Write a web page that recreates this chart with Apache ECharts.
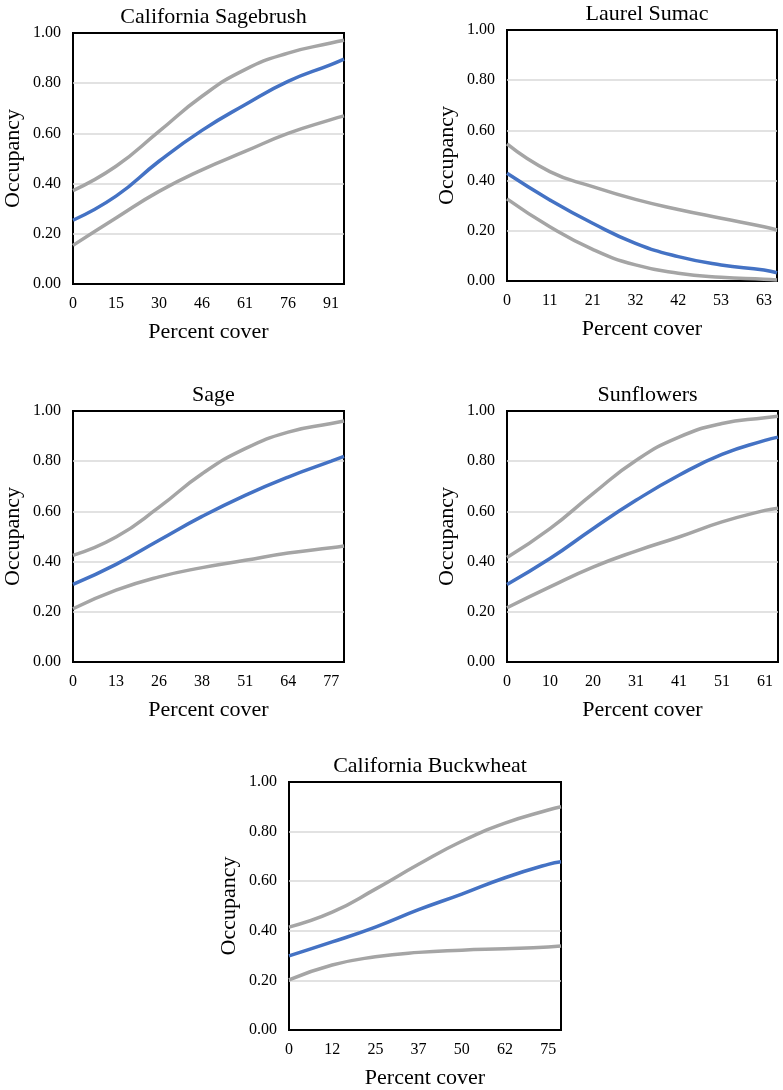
<!DOCTYPE html>
<html>
<head>
<meta charset="utf-8">
<script src="https://cdn.jsdelivr.net/npm/echarts@6/dist/echarts.min.js"></script>
<style>
  html, body { margin: 0; padding: 0; background: #fff; }
  #chart { width: 783px; height: 1090px; }
</style>
</head>
<body>
<div id="chart"></div>
<script>
// panel titles
const titles = ['California Sagebrush', 'Laurel Sumac', 'Sage', 'Sunflowers', 'California Buckwheat'];

// x tick labels shown under each panel
const xTicks1 = ['0', '15', '30', '46', '61', '76', '91'];
const xTicks2 = ['0', '11', '21', '32', '42', '53', '63'];
const xTicks3 = ['0', '13', '26', '38', '51', '64', '77'];
const xTicks4 = ['0', '10', '20', '31', '41', '51', '61'];
const xTicks5 = ['0', '12', '25', '37', '50', '62', '75'];

// tick spacing and axis end (percent cover)
const xStep = [15.2, 10.5, 12.8, 10.2, 12.45];
const xMax = [95.8, 66.2, 80.6, 64.3, 78.4];

// percent cover where the curves were read
const cover1 = [0, 15.2, 30.4, 45.6, 60.8, 76, 91.2, 95.8];
const cover2 = [0, 10.5, 21, 31.5, 42, 52.5, 63, 66.2];
const cover3 = [0, 12.8, 25.6, 38.4, 51.2, 64, 76.8, 80.6];
const cover4 = [0, 10.2, 20.4, 30.6, 40.8, 51, 61.2, 64.3];
const cover5 = [0, 12.45, 24.9, 37.35, 49.8, 62.25, 74.7, 78.4];

// occupancy: mean, upper and lower bounds
const mean1 = [0.254, 0.35, 0.489, 0.612, 0.714, 0.807, 0.874, 0.896];
const upper1 = [0.372, 0.469, 0.608, 0.748, 0.854, 0.92, 0.96, 0.971];
const lower1 = [0.154, 0.263, 0.369, 0.455, 0.528, 0.6, 0.655, 0.67];

const mean2 = [0.429, 0.323, 0.23, 0.15, 0.097, 0.064, 0.044, 0.033];
const upper2 = [0.546, 0.436, 0.376, 0.325, 0.285, 0.25, 0.216, 0.203];
const lower2 = [0.327, 0.216, 0.126, 0.064, 0.031, 0.015, 0.007, 0.004];

const mean3 = [0.309, 0.389, 0.485, 0.58, 0.664, 0.737, 0.8, 0.819];
const upper3 = [0.425, 0.498, 0.617, 0.75, 0.85, 0.916, 0.95, 0.96];
const lower3 = [0.212, 0.286, 0.339, 0.376, 0.405, 0.434, 0.455, 0.462];

const mean4 = [0.309, 0.412, 0.531, 0.644, 0.744, 0.827, 0.883, 0.896];
const upper4 = [0.416, 0.531, 0.671, 0.803, 0.896, 0.95, 0.973, 0.979];
const lower4 = [0.216, 0.299, 0.378, 0.442, 0.498, 0.558, 0.604, 0.613];

const mean5 = [0.299, 0.355, 0.415, 0.485, 0.548, 0.614, 0.668, 0.678];
const upper5 = [0.415, 0.475, 0.568, 0.668, 0.761, 0.834, 0.887, 0.9];
const lower5 = [0.202, 0.262, 0.295, 0.313, 0.322, 0.328, 0.335, 0.339];

const panels = [
  { ticks: xTicks1, cover: cover1, mean: mean1, upper: upper1, lower: lower1 },
  { ticks: xTicks2, cover: cover2, mean: mean2, upper: upper2, lower: lower2 },
  { ticks: xTicks3, cover: cover3, mean: mean3, upper: upper3, lower: lower3 },
  { ticks: xTicks4, cover: cover4, mean: mean4, upper: upper4, lower: lower4 },
  { ticks: xTicks5, cover: cover5, mean: mean5, upper: upper5, lower: lower5 }
];

// plot boxes [left, top, width, height]
const boxes = [
  [73, 33, 271, 251],
  [507, 30, 270, 251],
  [73, 411, 271, 251],
  [507, 411, 271, 251],
  [289, 782, 272, 250]
];

const font = 'Liberation Serif';
const blue = '#4472c4';
const gray = '#a5a5a5';

function pairs(xs, ys) {
  return xs.map((x, i) => [x, ys[i]]);
}

const option = {
  animation: false,
  backgroundColor: '#fff',
  textStyle: { fontFamily: font, color: '#000' },
  title: [],
  grid: [],
  xAxis: [],
  yAxis: [],
  series: []
};

panels.forEach((p, k) => {
  const b = boxes[k];
  option.title.push({
    text: titles[k],
    left: b[0] + b[2] / 2,
    top: b[1] - 32,
    textAlign: 'center',
    textStyle: { fontFamily: font, fontSize: 22, fontWeight: 'normal', color: '#000' }
  });
  option.grid.push({
    left: b[0], top: b[1], width: b[2], height: b[3],
    show: true, borderColor: '#000', borderWidth: 2, backgroundColor: '#fff'
  });
  option.xAxis.push({
    type: 'value',
    gridIndex: k,
    min: 0,
    max: xMax[k],
    interval: xStep[k],
    name: 'Percent cover',
    nameLocation: 'middle',
    nameGap: 37,
    nameTextStyle: { fontFamily: font, fontSize: 22, color: '#000' },
    axisLine: { show: false },
    axisTick: { show: false },
    splitLine: { show: false },
    axisLabel: {
      fontFamily: font, fontSize: 16, color: '#000', margin: 12,
      showMaxLabel: false,
      formatter: (v) => {
        const i = Math.round(v / xStep[k]);
        return Math.abs(v - i * xStep[k]) < 1e-6 && i < p.ticks.length ? p.ticks[i] : '';
      }
    }
  });
  option.yAxis.push({
    type: 'value',
    gridIndex: k,
    min: 0,
    max: 1,
    interval: 0.2,
    name: 'Occupancy',
    nameLocation: 'middle',
    nameGap: 49,
    nameTextStyle: { fontFamily: font, fontSize: 22, color: '#000' },
    axisLine: { show: false },
    axisTick: { show: false },
    splitLine: {
      show: true, showMinLine: false, showMaxLine: false,
      lineStyle: { color: '#d9d9d9', width: 1.5 }
    },
    axisLabel: {
      fontFamily: font, fontSize: 16, color: '#000', margin: 12,
      formatter: (v) => v.toFixed(2)
    }
  });
  [['upper', p.upper, gray], ['lower', p.lower, gray], ['mean', p.mean, blue]].forEach(([name, ys, color]) => {
    option.series.push({
      name: titles[k] + ' ' + name,
      type: 'line',
      xAxisIndex: k,
      yAxisIndex: k,
      data: pairs(p.cover, ys),
      smooth: true,
      showSymbol: false,
      lineStyle: { color: color, width: 3.5 },
      itemStyle: { color: color },
      z: name === 'mean' ? 3 : 2
    });
  });
});

const chart = echarts.init(document.getElementById('chart'));
chart.setOption(option);
</script>
</body>
</html>
